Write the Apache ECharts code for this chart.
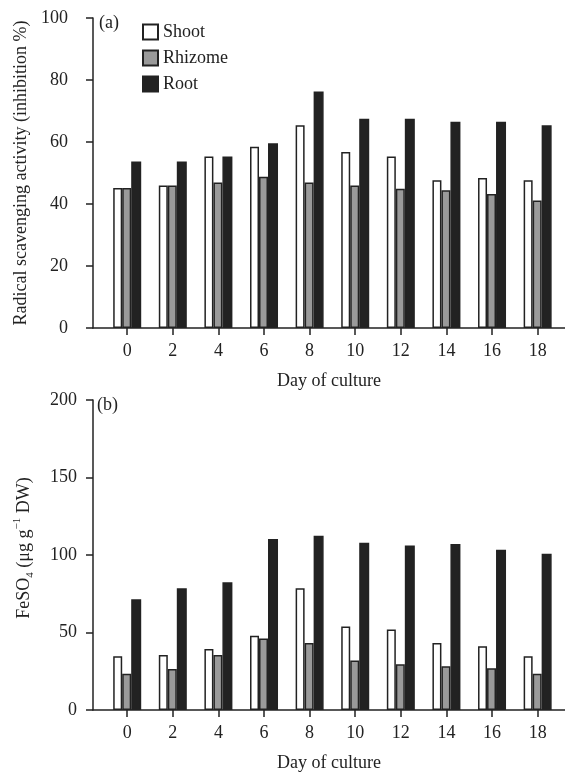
<!DOCTYPE html>
<html>
<head>
<meta charset="utf-8">
<script src="https://cdn.jsdelivr.net/npm/echarts@6/dist/echarts.min.js"></script>
<style>
html,body{margin:0;padding:0;background:#fff;}
#chart{width:565px;height:773px;}
</style>
</head>
<body>
<div id="chart"></div>
<script>
var days = [0, 2, 4, 6, 8, 10, 12, 14, 16, 18];
var seriesNames = ['Shoot', 'Rhizome', 'Root'];
var shootA = [45.2, 46.0, 55.3, 58.5, 65.4, 56.8, 55.3, 47.7, 48.4, 47.7];
var rhizomeA = [45.2, 46.0, 46.9, 48.8, 46.9, 46.0, 44.9, 44.4, 43.2, 41.1];
var rootA = [53.7, 53.7, 55.3, 59.6, 76.3, 67.5, 67.5, 66.5, 66.5, 65.4];
var shootB = [34.6, 35.5, 39.4, 47.9, 78.5, 53.8, 52.0, 43.2, 41.1, 34.6];
var rhizomeB = [23.4, 26.5, 35.5, 46.2, 43.2, 32.0, 29.5, 28.2, 26.9, 23.4];
var rootB = [71.4, 78.5, 82.4, 110.3, 112.5, 107.9, 106.2, 107.1, 103.4, 100.8];
var yTicksA = [0, 20, 40, 60, 80, 100];
var yTicksB = [0, 50, 100, 150, 200];

var FONT = "'Liberation Serif', 'DejaVu Serif', serif";
var INK = '#222';
var fills = ['#ffffff', '#9a9a9a', '#222222'];
var widths = [9, 9, 10];

function pairs(vals) { return days.map(function (d, i) { return [d, vals[i]]; }); }

function xAxisDef(gridIndex) {
  return {
    type: 'value', gridIndex: gridIndex, min: -1.5, max: 19.2,
    name: 'Day of culture', nameLocation: 'middle', nameGap: 44,
    nameTextStyle: { fontFamily: FONT, fontSize: 18, color: INK },
    axisLine: { show: true, onZero: false, lineStyle: { color: INK, width: 1.5 } },
    axisTick: { show: true, length: 7, customValues: days, lineStyle: { color: INK, width: 1.5 } },
    axisLabel: { customValues: days, margin: 14, fontFamily: FONT, fontSize: 18, color: INK },
    splitLine: { show: false }
  };
}

function yAxisDef(gridIndex, ticks, step, name, margin, extraName) {
  var ax = {
    type: 'value', gridIndex: gridIndex, min: ticks[0], max: ticks[ticks.length - 1], interval: step,
    name: name, nameLocation: 'middle', nameGap: 57,
    nameTextStyle: { fontFamily: FONT, fontSize: 18, color: INK },
    axisLine: { show: true, onZero: false, lineStyle: { color: INK, width: 1.5 } },
    axisTick: { show: true, length: 7, lineStyle: { color: INK, width: 1.5 } },
    axisLabel: { margin: margin, fontFamily: FONT, fontSize: 18, color: INK },
    splitLine: { show: false }
  };
  if (extraName) { Object.assign(ax.nameTextStyle, extraName); }
  return ax;
}

var barSeries = [];
[[shootA, rhizomeA, rootA], [shootB, rhizomeB, rootB]].forEach(function (set, gi) {
  set.forEach(function (vals, si) {
    barSeries.push({
      type: 'bar', name: seriesNames[si], xAxisIndex: gi, yAxisIndex: gi,
      data: pairs(vals), barWidth: widths[si], barGap: '0%',
      itemStyle: { color: fills[si], borderColor: INK, borderWidth: 1.5 },
      emphasis: { disabled: true }, animation: false
    });
  });
});

var chart = echarts.init(document.getElementById('chart'));
chart.setOption({
  animation: false,
  backgroundColor: '#fff',
  textStyle: { fontFamily: FONT },
  grid: [
    { left: 93, right: 0, top: 18, height: 310 },
    { left: 93, right: 0, top: 400, height: 310 }
  ],
  legend: {
    data: seriesNames, orient: 'vertical', left: 137, top: 18,
    icon: 'rect', itemWidth: 15, itemHeight: 15, itemGap: 8,
    textStyle: { fontFamily: FONT, fontSize: 18, color: INK },
    selectedMode: false
  },
  xAxis: [xAxisDef(0), xAxisDef(1)],
  yAxis: [
    yAxisDef(0, yTicksA, 20, 'Radical scavenging activity (inhibition %)', 25),
    yAxisDef(1, yTicksB, 50, 'FeSO{sub|4} (μg g{sup|−1} DW)', 16, {
      lineHeight: 24, padding: [0, 0, 0, 14],
      rich: {
        sub: { fontFamily: FONT, fontSize: 11, color: INK, verticalAlign: 'bottom', lineHeight: 24 },
        sup: { fontFamily: FONT, fontSize: 11, color: INK, verticalAlign: 'top', lineHeight: 24 }
      }
    })
  ],
  graphic: [
    { type: 'text', left: 99, top: 14, style: { text: '(a)', font: "18px 'Liberation Serif'", fill: INK } },
    { type: 'text', left: 97, top: 396, style: { text: '(b)', font: "18px 'Liberation Serif'", fill: INK } }
  ],
  series: barSeries
});
</script>
</body>
</html>
